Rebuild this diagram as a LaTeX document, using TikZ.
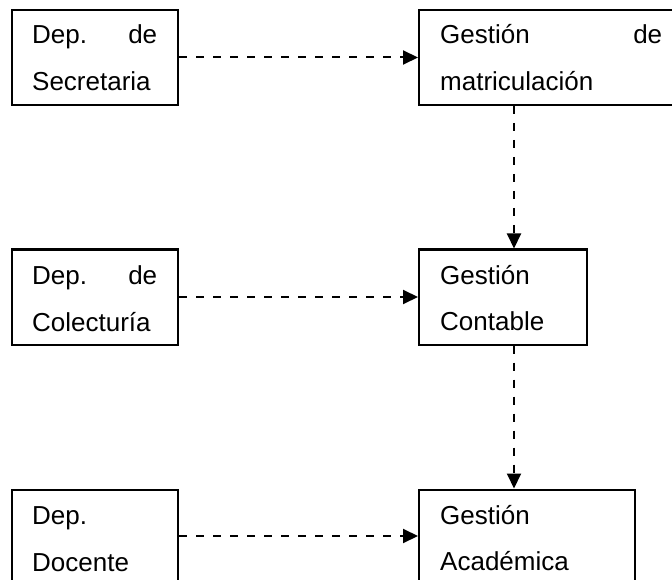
\documentclass[tikz,border=0pt]{standalone}
\usepackage{fontspec}
\setmainfont{Liberation Sans}
\usetikzlibrary{arrows.meta}
\begin{document}
\begin{tikzpicture}[x=1pt,y=-1pt,
  box/.style={draw=black,line width=2pt,rectangle,inner sep=0pt,fill=white},
  txt/.style={anchor=base west,inner sep=0pt,font=\fontsize{26}{26}\selectfont},
  flow/.style={draw=black,line width=2pt,dash pattern=on 8pt off 9pt,-{Triangle[length=15pt,width=14pt]}}]
\useasboundingbox (0,0) rectangle (672,580);
\fill[white] (0,0) rectangle (672,580);
% boxes
\node[box,minimum width=166pt,minimum height=95pt] (b1) at (95,57.5) {};
\node[box,minimum width=261pt,minimum height=95pt] (b2) at (549.5,57.5) {};
\node[box,minimum width=166pt,minimum height=95pt] (b3) at (95,297) {};
\node[box,minimum width=168pt,minimum height=95pt] (b4) at (503,297) {};
\node[box,minimum width=166pt,minimum height=111pt] (b5) at (95,545) {};
\node[box,minimum width=216pt,minimum height=111pt] (b6) at (527,545) {};
% texts
\node[txt] (t1a) at (32,44) {\makebox[125pt]{Dep.\hfill de}};
\node[txt] (t1b) at (32,91) {Secretaria};
\node[txt] (t2a) at (440,44) {\makebox[222pt]{Gestión\hfill de}};
\node[txt] (t2b) at (440,91) {matriculación};
\node[txt] (t3a) at (32,284) {\makebox[125pt]{Dep.\hfill de}};
\node[txt] (t3b) at (32,331) {Colecturía};
\node[txt] (t4a) at (440,284) {Gestión};
\node[txt] (t4b) at (440,330) {Contable};
\node[txt] (t5a) at (32,524) {Dep.};
\node[txt] (t5b) at (32,571) {Docente};
\node[txt] (t6a) at (440,524) {Gestión};
\node[txt] (t6b) at (440,570) {Académica};
% connectors
\draw[flow] (b1.east) -- (b2.west);
\draw[flow] (b3.east) -- (b4.west);
\draw[flow] ([yshift=-47.5pt]b5.north east) -- ([yshift=-47.5pt]b6.north west);
\draw[flow] ([xshift=96pt]b2.south west) -- ([xshift=96pt]b4.north west);
\draw[flow] ([xshift=96pt]b4.south west) -- ([xshift=96pt]b6.north west);
\end{tikzpicture}
\end{document}
